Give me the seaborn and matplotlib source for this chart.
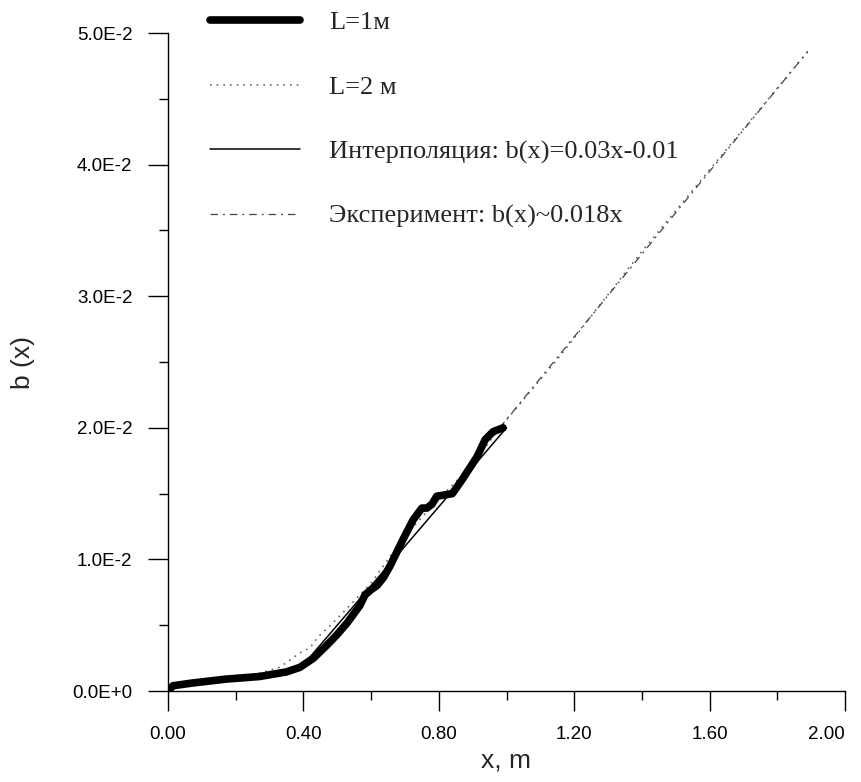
import numpy as np
import pandas as pd
import matplotlib
matplotlib.use("Agg")
import matplotlib.pyplot as plt
import seaborn as sns
from matplotlib.ticker import MultipleLocator, FixedLocator, FixedFormatter

# Данные
x_l1 = [0.0, 0.015, 0.07, 0.17, 0.27, 0.35, 0.39, 0.43, 0.47, 0.50, 0.53, 0.567, 0.582,
        0.60, 0.617, 0.636, 0.656, 0.694, 0.724, 0.75, 0.765, 0.78, 0.794, 0.818, 0.84,
        0.87, 0.913, 0.937, 0.96, 0.99]
y_l1 = [0.0, 0.0004, 0.0006, 0.0009, 0.0011, 0.00145, 0.0018, 0.0025, 0.0035, 0.0043,
        0.0052, 0.0065, 0.0073, 0.0077, 0.0080, 0.0086, 0.0095, 0.0115, 0.0130, 0.0139,
        0.0139, 0.0142, 0.0148, 0.0149, 0.0150, 0.0161, 0.0178, 0.0191, 0.0197, 0.0200]

x_l2 = [0.0, 0.05, 0.15, 0.25, 0.33, 0.39, 0.42, 0.443, 0.5, 0.6, 0.7, 0.8, 0.9,
        0.98, 1.15, 1.40, 1.60, 1.89]
y_l2 = [0.0, 0.0006, 0.0009, 0.0012, 0.0018, 0.0029, 0.0033, 0.0041, 0.0055, 0.0082,
        0.0118, 0.0146, 0.0172, 0.0200, 0.0252, 0.0334, 0.0396, 0.0486]

x_interp = [0.40, 1.00]
y_interp = [0.0020, 0.0200]

x_exp = [0.98, 1.89]
y_exp = [0.0200, 0.0486]

x_ticks = [0.0, 0.4, 0.8, 1.2, 1.6, 2.0]
x_tick_labels = ["0.00", "0.40", "0.80", "1.20", "1.60", "2.00"]
y_ticks = [0.0, 0.01, 0.02, 0.03, 0.04, 0.05]
y_tick_labels = ["0.0E+0", "1.0E-2", "2.0E-2", "3.0E-2", "4.0E-2", "5.0E-2"]

labels = ["L=1м", "L=2 м", "Интерполяция: b(x)=0.03x-0.01", "Эксперимент: b(x)~0.018x"]

sns.set_theme(style="ticks", rc={
    "axes.edgecolor": "black",
    "axes.linewidth": 1.0,
    "xtick.color": "black",
    "ytick.color": "black",
})
plt.rcParams["font.family"] = ["Liberation Sans", "DejaVu Sans"]

fig = plt.figure(figsize=(8.62, 7.82), dpi=100)
ax = fig.add_axes([168 / 862, 1 - 691 / 782, (845 - 168) / 862, (691 - 33) / 782])

sns.lineplot(x=x_l1, y=y_l1, ax=ax, color="black", linewidth=5.5, label=labels[0],
             sort=False, errorbar=None, zorder=4, solid_joinstyle="round",
             solid_capstyle="round")
sns.lineplot(x=x_l2, y=y_l2, ax=ax, color="#666666", linewidth=1.2, linestyle=(0, (1, 3)),
             label=labels[1], sort=False, errorbar=None, zorder=3)
sns.lineplot(x=x_interp, y=y_interp, ax=ax, color="black", linewidth=1.1, label=labels[2],
             sort=False, errorbar=None, zorder=5)
sns.lineplot(x=x_exp, y=y_exp, ax=ax, color="#444444", linewidth=0.9,
             linestyle=(0, (6, 4, 1.5, 4)), label=labels[3], sort=False, errorbar=None,
             zorder=3)

ax.set_xlim(0, 2.0)
ax.set_ylim(0, 0.05)
sns.despine(ax=ax)

ax.xaxis.set_major_locator(FixedLocator(x_ticks))
ax.xaxis.set_major_formatter(FixedFormatter(x_tick_labels))
ax.yaxis.set_major_locator(FixedLocator(y_ticks))
ax.yaxis.set_major_formatter(FixedFormatter(y_tick_labels))
ax.xaxis.set_minor_locator(MultipleLocator(0.2))
ax.yaxis.set_minor_locator(MultipleLocator(0.005))

ax.tick_params(which="major", direction="out", length=14.5, width=1.0, labelsize=13.5)
ax.tick_params(axis="x", which="major", pad=11)
ax.tick_params(axis="y", which="major", pad=11)
ax.tick_params(which="minor", direction="out", length=6.5, width=1.0)

# последняя подпись оси x прижата вправо, как на оригинале
ax.get_xticklabels()[-1].set_horizontalalignment("right")

ax.set_xlabel("x, m", fontsize=19, labelpad=4)
ax.set_ylabel("b (x)", fontsize=19, labelpad=27)

leg = ax.legend(loc="upper left", bbox_to_anchor=(210 / 862, 1 - 11 / 782),
                bbox_transform=fig.transFigure, frameon=False, borderpad=0,
                borderaxespad=0, handlelength=3.4, handletextpad=1.1,
                labelspacing=1.55, prop={"family": "Liberation Serif", "size": 19})

fig.savefig("out.png", dpi=100, facecolor="white")
